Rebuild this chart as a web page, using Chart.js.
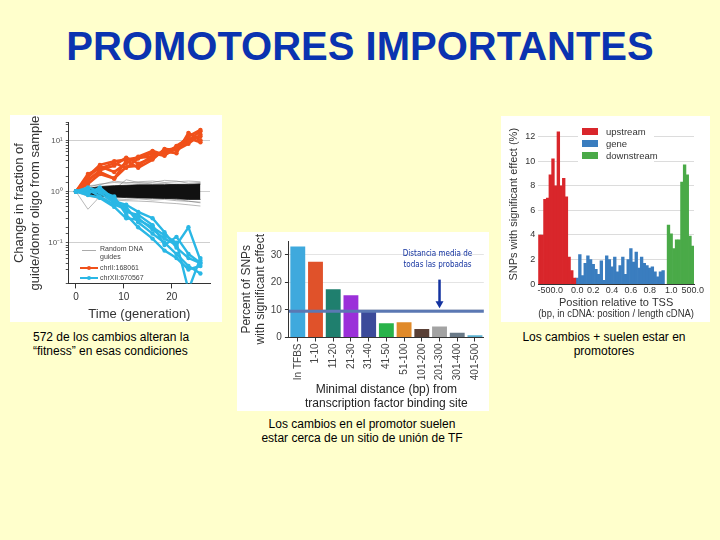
<!DOCTYPE html>
<html>
<head>
<meta charset="utf-8">
<script src="https://cdn.jsdelivr.net/npm/chart.js@4.4.1/dist/chart.umd.min.js"></script>
<style>
  body { margin: 0; background: #ffffcc; font-family: "Liberation Sans", Arial, sans-serif; }
  #page { position: relative; width: 720px; height: 540px; overflow: hidden; }
  h1 { position: absolute; left: 0; top: 26px; width: 720px; margin: 0; text-align: center;
       color: #0a33b0; font-size: 40px; line-height: 40px; font-weight: bold; }
  .panel { position: absolute; background: #fff; }
  .txt { position: absolute; font-size: 12px; line-height: 14px; color: #000; }
  .lg { position: absolute; font-size: 7px; line-height: 8px; color: #444; }
  .rl { position: absolute; font-size: 9.5px; color: #333; }
</style>
</head>
<body>
<div id="page">
  <h1>PROMOTORES IMPORTANTES</h1>

  <div class="panel" style="left:10px;top:115px;width:212px;height:207px;">
    <canvas id="timeChart" width="212" height="207"></canvas>
  </div>
  <div class="panel" style="left:237px;top:232px;width:252px;height:179px;">
    <canvas id="distChart" width="252" height="179"></canvas>
  </div>
  <div class="panel" style="left:501px;top:116px;width:209px;height:206px;">
    <canvas id="posChart" width="209" height="206"></canvas>
  </div>

  <!-- legend of the time chart -->
  <div style="position:absolute;left:82px;top:250px;width:14px;height:1px;background:#aaa;"></div>
  <div class="lg" style="left:100px;top:245px;">Random DNA<br>guides</div>
  <div style="position:absolute;left:80px;top:267px;width:18px;height:2px;background:#f0501a;"></div>
  <div style="position:absolute;left:87px;top:266px;width:4px;height:4px;border-radius:2px;background:#f0501a;"></div>
  <div class="lg" style="left:100px;top:264px;">chrII:168061</div>
  <div style="position:absolute;left:80px;top:277px;width:18px;height:2px;background:#2ab7e5;"></div>
  <div style="position:absolute;left:87px;top:276px;width:4px;height:4px;border-radius:2px;background:#2ab7e5;"></div>
  <div class="lg" style="left:100px;top:274px;">chrXII:670567</div>

  <!-- legend of the position chart -->
  <div style="position:absolute;left:578px;top:124px;width:76px;height:40px;background:#fff;"></div>
  <div style="position:absolute;left:582px;top:128px;width:16px;height:7px;background:#d9262b;"></div>
  <div class="rl" style="left:606px;top:126px;">upstream</div>
  <div style="position:absolute;left:582px;top:140px;width:16px;height:7px;background:#3a7dbf;"></div>
  <div class="rl" style="left:606px;top:138px;">gene</div>
  <div style="position:absolute;left:582px;top:152px;width:16px;height:7px;background:#4aaa48;"></div>
  <div class="rl" style="left:606px;top:150px;">downstream</div>

  <div class="txt" style="left:33px;top:330px;">572 de los cambios alteran la<br>“fitness” en esas condiciones</div>
  <div class="txt" style="left:504px;top:330px;width:200px;text-align:center;">Los cambios + suelen estar en<br>promotores</div>
  <div class="txt" style="left:232px;top:417px;width:260px;text-align:center;">Los cambios en el promotor suelen<br>estar cerca de un sitio de unión de TF</div>
</div>

<script>
// ---- left chart: change in fraction over time ----
const times = [0, 2.5, 5, 8, 10.5, 13, 16, 18.5, 21, 23.5, 26];

const orangeLines = [
  [1, 1.6, 2.6, 3.2, 4.6, 3.5, 4.5, 6.5, 7.0, 12, 16],
  [1, 1.9, 3.1, 2.4, 3.6, 4.8, 6.2, 5.2, 6.8, 9.5, 12],
  [1, 1.4, 2.2, 1.8, 3.0, 3.2, 5.0, 6.0, 5.6, 14, 10],
  [1, 2.2, 2.8, 3.6, 2.9, 4.4, 5.6, 5.0, 7.8, 11, 9.2],
  [1, 1.7, 2.4, 1.8, 4.0, 2.9, 4.2, 6.8, 6.4, 8.6, 13],
  [1, 2.0, 3.3, 3.9, 4.2, 4.6, 4.8, 5.8, 7.4, 10, 15]
];

const blueLines = [
  [1, 1.1, 0.8, 0.55, 0.45, 0.3, 0.18, 0.12, 0.09, 0.2, 0.045],
  [1, 0.9, 1.2, 0.7, 0.4, 0.35, 0.22, 0.09, 0.13, 0.06, 0.04],
  [1, 1.0, 0.95, 0.6, 0.5, 0.25, 0.15, 0.1, 0.06, 0.035, 0.025],
  [1, 1.2, 1.0, 0.8, 0.35, 0.2, 0.12, 0.07, 0.05, 0.03, 0.035],
  [1, 0.85, 0.75, 0.5, 0.3, 0.28, 0.2, 0.14, 0.1, 0.012, 0.05],
  [1, 0.95, 1.1, 0.65, 0.55, 0.4, 0.3, 0.16, 0.08, 0.05, 0.04]
];

// dense band of the random guides
const bandUpper = [1, 1.15, 1.25, 1.3, 1.32, 1.35, 1.35, 1.36, 1.38, 1.38, 1.4];
const bandLower = [1, 0.88, 0.82, 0.78, 0.76, 0.75, 0.74, 0.73, 0.72, 0.7, 0.7];
const randomLines = [
  [1, 0.45, 0.8, 0.9, 0.85, 0.8, 0.78, 0.75, 0.7, 0.65, 0.6],
  [1, 1.2, 1.4, 1.5, 1.45, 1.55, 1.6, 1.5, 1.55, 1.6, 1.55],
  [1, 0.9, 0.7, 0.68, 0.66, 0.65, 0.63, 0.6, 0.58, 0.55, 0.52],
  [1, 1.3, 1.35, 1.6, 1.5, 1.45, 1.5, 1.65, 1.6, 1.45, 1.5],
  [1, 0.95, 1.05, 1.1, 1.7, 1.5, 1.4, 1.45, 1.35, 1.3, 1.45],
  [1, 0.8, 0.75, 0.72, 0.7, 0.72, 0.68, 0.7, 0.66, 0.64, 0.62]
];

// ---- middle chart: distance to TF binding site ----
const distCats = ["In TFBS", "1-10", "11-20", "21-30", "31-40", "41-50", "51-100", "101-200", "201-300", "301-400", "401-500"];
const distVals = [33, 27.5, 17.5, 15.3, 9.5, 5.2, 5.5, 3.1, 4.0, 1.7, 0.8];
const distColors = ["#3fa9dd", "#e0522a", "#1f7f6e", "#9b30d9", "#3b4a9a", "#29b34a", "#e08a2a", "#5a4036", "#a3a3a3", "#6a7a88", "#5ab0d0"];
const meanValue = 9.5;
const arrowAt = 8;      // category under the arrow
const arrowTop = 21;
const arrowTip = 10.6;

// ---- right chart: position relative to TSS ----
const upstreamVals = [4.0, 4.0, 6.9, 7.0, 8.9, 10.2, 8.0, 12.4, 8.0, 8.6, 7.1, 2.2, 1.1, 0.5];
const geneVals = [0.5, 2.4, 0.7, 1.7, 2.3, 2.0, 1.6, 1.2, 0.8, 1.9, 0.3, 2.3, 2.0, 1.4, 2.2, 1.0, 1.5,
                  2.2, 0.8, 2.0, 2.9, 1.8, 2.6, 1.3, 2.2, 1.7, 1.5, 1.3, 1.4, 1.0, 0.6, 1.0, 1.1];
const downstreamVals = [4.8, 4.1, 2.9, 3.6, 3.6, 8.3, 9.7, 8.9, 3.9, 3.1];
const posTicks = { 4: "-500.0", 14: "0.0", 20: "0.2", 27: "0.4", 34: "0.6", 41: "0.8", 49: "1.0", 57: "500.0" };

Chart.defaults.font.family = '"Liberation Sans", Arial, sans-serif';
Chart.defaults.animation = false;

// left chart
const toXY = vals => vals.map((v, i) => ({ x: times[i], y: v }));
const timeSets = [];
blueLines.forEach(l => timeSets.push({ data: toXY(l), borderColor: "#2ab7e5", backgroundColor: "#2ab7e5",
  borderWidth: 2.4, pointRadius: 2.2, pointBorderWidth: 0 }));
orangeLines.forEach(l => timeSets.push({ data: toXY(l), borderColor: "#f0501a", backgroundColor: "#f0501a",
  borderWidth: 2.6, pointRadius: 2.2, pointBorderWidth: 0 }));
timeSets.push({ data: toXY(bandUpper), borderColor: "#111", borderWidth: 0.8, pointRadius: 0,
  backgroundColor: "#111", fill: "+1" });
timeSets.push({ data: toXY(bandLower), borderColor: "#111", borderWidth: 0.8, pointRadius: 0 });
randomLines.forEach(l => timeSets.push({ data: toXY(l), borderColor: "rgba(110,110,110,0.7)",
  borderWidth: 0.7, pointRadius: 0 }));

const isPow = v => { const l = Math.log10(v); return Math.abs(l - Math.round(l)) < 1e-6; };
const sup = { "-1": "10⁻¹", "0": "10⁰", "1": "10¹" };

new Chart(document.getElementById("timeChart"), {
  type: "line",
  data: { datasets: timeSets },
  options: {
    responsive: false,
    layout: { padding: { top: 7, right: 12, bottom: 0, left: 0 } },
    plugins: { legend: { display: false }, tooltip: { enabled: false } },
    scales: {
      x: {
        type: "linear", min: -1.5, max: 28,
        ticks: { stepSize: 10, includeBounds: false, color: "#333", font: { size: 10 }, maxRotation: 0 },
        grid: { drawOnChartArea: false, tickColor: "#333", tickLength: 5 },
        border: { color: "#333" },
        title: { display: true, text: "Time (generation)", color: "#333", font: { size: 13 }, padding: 0 }
      },
      y: {
        type: "logarithmic", min: 0.016, max: 22,
        ticks: {
          autoSkip: false, color: "#555", font: { size: 8 }, padding: 3,
          callback: v => isPow(v) ? sup[String(Math.round(Math.log10(v)))] : ""
        },
        grid: {
          color: c => (c.tick && isPow(c.tick.value)) ? "#cfcfcf" : "rgba(0,0,0,0)",
          tickColor: "#555", tickLength: 3
        },
        border: { color: "#333" },
        title: { display: true, text: ["Change in fraction of", "guide/donor oligo from sample"],
          color: "#333", font: { size: 13 }, padding: 2 }
      }
    }
  }
});

// middle chart
const meanLinePlugin = {
  id: "meanLine",
  afterDatasetsDraw(chart) {
    const { ctx, chartArea: a, scales: { x, y } } = chart;
    const py = y.getPixelForValue(meanValue);
    ctx.save();
    ctx.strokeStyle = "#5b78b3";
    ctx.lineWidth = 3;
    ctx.beginPath();
    ctx.moveTo(a.left, py);
    ctx.lineTo(a.right, py);
    ctx.stroke();
    const ax = x.getPixelForValue(arrowAt);
    const y0 = y.getPixelForValue(arrowTop), y1 = y.getPixelForValue(arrowTip);
    ctx.strokeStyle = "#1433a0";
    ctx.fillStyle = "#1433a0";
    ctx.lineWidth = 2.5;
    ctx.beginPath();
    ctx.moveTo(ax, y0);
    ctx.lineTo(ax, y1 - 6);
    ctx.stroke();
    ctx.beginPath();
    ctx.moveTo(ax - 4, y1 - 7);
    ctx.lineTo(ax + 4, y1 - 7);
    ctx.lineTo(ax, y1);
    ctx.closePath();
    ctx.fill();
    ctx.font = '8px "DejaVu Sans Condensed", "Liberation Sans", sans-serif';
    ctx.textAlign = "center";
    ctx.fillText("Distancia media de", ax - 2, y.getPixelForValue(29.6));
    ctx.fillText("todas las probadas", ax - 2, y.getPixelForValue(25.6));
    ctx.restore();
  }
};

new Chart(document.getElementById("distChart"), {
  type: "bar",
  data: { labels: distCats, datasets: [{ data: distVals, backgroundColor: distColors,
    barPercentage: 0.84, categoryPercentage: 1 }] },
  options: {
    responsive: false,
    layout: { padding: { top: 4, right: 1, bottom: 0, left: 2 } },
    plugins: { legend: { display: false }, tooltip: { enabled: false } },
    scales: {
      x: {
        ticks: { autoSkip: false, minRotation: 90, maxRotation: 90, color: "#444", font: { size: 10 }, padding: 2 },
        grid: { offset: false, drawOnChartArea: false, tickColor: "#333", tickLength: 4 },
        border: { color: "#333" },
        title: { display: true, text: ["Minimal distance (bp) from", "transcription factor binding site"],
          color: "#222", font: { size: 12 }, padding: 0 }
      },
      y: {
        min: 0, max: 35,
        ticks: { stepSize: 10, includeBounds: false, color: "#444", font: { size: 10 } },
        grid: { color: "#e4e4e4", tickColor: "#333", tickLength: 4 },
        border: { color: "#333" },
        title: { display: true, text: ["Percent of SNPs", "with significant effect"],
          color: "#333", font: { size: 12 }, padding: 0 }
      }
    }
  },
  plugins: [meanLinePlugin]
});

// right chart
const gap = 1;
const nBars = upstreamVals.length + geneVals.length + gap + downstreamVals.length;
const posLabels = Array.from({ length: nBars }, (_, i) => posTicks[i] || "");
const pad = n => Array(n).fill(null);
const upFull = upstreamVals.concat(pad(nBars - upstreamVals.length));
const geneFull = pad(upstreamVals.length).concat(geneVals, pad(gap + downstreamVals.length));
const downFull = pad(nBars - downstreamVals.length).concat(downstreamVals);

new Chart(document.getElementById("posChart"), {
  type: "bar",
  data: {
    labels: posLabels,
    datasets: [
      { label: "upstream", data: upFull, backgroundColor: "#d9262b" },
      { label: "gene", data: geneFull, backgroundColor: "#3a7dbf" },
      { label: "downstream", data: downFull, backgroundColor: "#4aaa48" }
    ]
  },
  options: {
    responsive: false,
    barPercentage: 1, categoryPercentage: 1,
    layout: { padding: { top: 6, right: 16, bottom: 2, left: 4 } },
    plugins: { legend: { display: false }, tooltip: { enabled: false } },
    scales: {
      x: {
        stacked: true,
        ticks: { autoSkip: false, maxRotation: 0, color: "#333", font: { size: 9 }, padding: 1 },
        grid: { display: false, tickLength: 0 },
        border: { color: "#333" },
        title: { display: true, text: ["Position relative to TSS", "(bp, in cDNA: position / length cDNA)"],
          color: "#333", font: { size: 11, lineHeight: 1.05 }, padding: 0 }
      },
      y: {
        stacked: true, min: 0, max: 13,
        ticks: { stepSize: 2, includeBounds: false, color: "#333", font: { size: 9 } },
        grid: { color: "#dcdcdc", drawTicks: false },
        border: { display: false },
        title: { display: true, text: "SNPs with significant effect (%)", color: "#333", font: { size: 11 }, padding: 2 }
      }
    }
  }
});
</script>
</body>
</html>
